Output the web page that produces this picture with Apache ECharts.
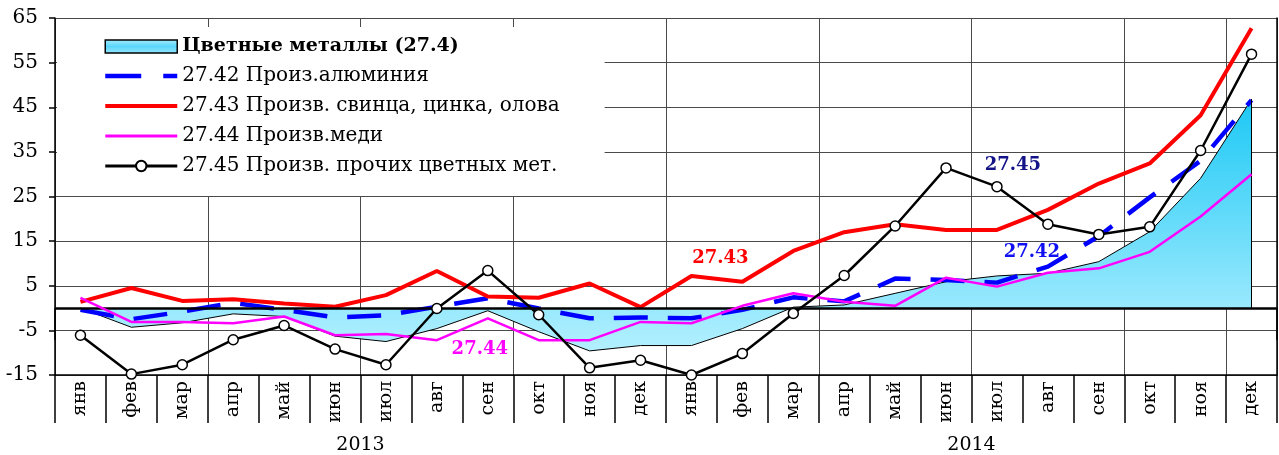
<!DOCTYPE html>
<html>
<head>
<meta charset="utf-8">
<script src="https://cdn.jsdelivr.net/npm/echarts@6/dist/echarts.min.js"></script>
<style>
html,body{margin:0;padding:0;background:#fff;}
#c{width:1279px;height:455px;}
</style>
</head>
<body>
<div id="c"></div>
<script>
var months = ['янв','фев','мар','апр','май','июн','июл','авг','сен','окт','ноя','дек',
              'янв','фев','мар','апр','май','июн','июл','авг','сен','окт','ноя','дек'];
var years = ['2013','2014'];
var yTicks = {min: -15, max: 65, step: 10};

var total274 = [0.0,-4.3,-3.3,-1.3,-1.9,-6.3,-7.5,-4.6,-0.6,-5.3,-9.6,-8.4,
                -8.4,-4.6,0.2,0.7,3.3,5.9,7.2,7.8,10.4,17.1,29.1,46.8];
var alum2742 = [-0.4,-2.5,-0.8,1.2,-0.4,-2.1,-1.6,0.3,2.2,-0.1,-2.3,-2.1,
                -2.3,-0.4,2.4,1.5,6.6,6.3,5.7,9.3,16.1,24.8,33.0,46.6];
var lead2743 = [1.4,4.5,1.6,2.0,1.0,0.3,2.9,8.3,2.6,2.3,5.5,0.2,
                7.2,5.9,12.8,17.0,18.8,17.5,17.5,22.0,27.9,32.4,43.2,62.7];
var copper2744 = [2.3,-3.1,-3.1,-3.4,-1.9,-6.1,-5.8,-7.2,-2.3,-7.2,-7.2,-3.1,
                  -3.4,0.5,3.3,1.4,0.5,6.8,4.8,7.9,8.9,12.6,20.5,30.0];
var other2745 = [-6.1,-14.8,-12.7,-7.1,-3.9,-9.2,-12.7,-0.1,8.4,-1.5,-13.4,-11.7,
                 -15.0,-10.2,-1.2,7.3,18.4,31.4,27.2,18.8,16.5,18.2,35.3,56.9];

var names = ['Цветные металлы (27.4)','27.42 Произ.алюминия','27.43 Произв. свинца, цинка, олова',
             '27.44 Произв.меди','27.45 Произв. прочих цветных мет.'];

var FONT = 'DejaVu Serif';
var gridCol = '#4a4a4a';

var areaGrad = new echarts.graphic.LinearGradient(0,0,0,1,[
  {offset:0,color:'#1cc8f5'},{offset:1,color:'#b3f0ff'}]);
var legendGrad = new echarts.graphic.LinearGradient(0,0,0,1,[
  {offset:0,color:'#a8ecff'},{offset:0.5,color:'#5ad6fb'},{offset:1,color:'#9ae6fc'}]);

function annot(text, color, idx, val, dx){
  return {
    symbol:'circle', symbolSize:1, silent:true,
    itemStyle:{color:'rgba(0,0,0,0)'},
    label:{show:true, position:'inside', formatter:text, color:color,
           fontFamily:FONT, fontWeight:'bold', fontSize:18, offset:[dx,0]},
    data:[{coord:[idx, val]}]
  };
}

var lastIdx = total274.length - 1;

var chart = echarts.init(document.getElementById('c'), null, {renderer:'canvas'});
chart.setOption({
  animation:false,
  backgroundColor:'#fff',
  grid:{left:55, right:2, top:18, bottom:80, containLabel:false},
  legend:{
    orient:'vertical', left:57, top:27,
    padding:[10,45,20,46],
    backgroundColor:'#fff',
    itemWidth:72, itemHeight:13, itemGap:10,
    formatter:function(name){
      return (name === names[0] ? '{b|' : '{n|') + name + '}';
    },
    textStyle:{
      fontFamily:FONT, fontSize:20, color:'#000',
      rich:{
        n:{fontFamily:FONT, fontSize:20, fontWeight:'normal', color:'#000'},
        b:{fontFamily:FONT, fontSize:19, fontWeight:'bold', color:'#000'}
      }
    },
    data:[
      {name:names[0], icon:'rect', itemStyle:{color:legendGrad, borderColor:'#000', borderWidth:1.5}},
      {name:names[1], itemStyle:{opacity:0}, lineStyle:{width:4.5, color:'#0000ff', type:[36,22]}},
      {name:names[2], itemStyle:{opacity:0}, lineStyle:{width:4, color:'#ff0000'}},
      {name:names[3], itemStyle:{opacity:0}, lineStyle:{width:3, color:'#ff00ff'}},
      {name:names[4], lineStyle:{width:3, color:'#000'}}
    ]
  },
  xAxis:[
    {
      type:'category', data:months, position:'bottom', boundaryGap:true,
      axisLine:{show:true, onZero:false, lineStyle:{color:'#000', width:1.5}},
      axisTick:{show:true, interval:0, length:48, lineStyle:{color:'#000', width:1.5}},
      axisLabel:{rotate:90, interval:0, margin:6, fontFamily:FONT, fontSize:19, color:'#000'},
      splitLine:{show:true, interval:2, lineStyle:{color:gridCol, width:1}}
    },
    {
      type:'category', data:years, position:'bottom', offset:48, boundaryGap:true,
      axisLine:{show:false},
      axisTick:{show:true, interval:0, length:32, lineStyle:{color:'#000', width:1.5}},
      axisLabel:{margin:13, fontFamily:FONT, fontSize:19, color:'#000'},
      splitLine:{show:false}
    }
  ],
  yAxis:[
    {
      type:'value', min:yTicks.min, max:yTicks.max, interval:yTicks.step,
      axisLine:{show:true, lineStyle:{color:'#000', width:1.5}},
      axisTick:{show:true, length:6, lineStyle:{color:'#000', width:1.5}},
      axisLabel:{margin:17, fontFamily:FONT, fontSize:20, color:'#000'},
      splitLine:{show:true, lineStyle:{color:gridCol, width:1}}
    },
    {
      type:'value', position:'right', min:yTicks.min, max:yTicks.max, interval:yTicks.step,
      axisLine:{show:true, lineStyle:{color:'#000', width:1.5}},
      axisTick:{show:false}, axisLabel:{show:false}, splitLine:{show:false}
    }
  ],
  series:[
    {
      name:names[0], type:'line', data:total274, symbol:'none', z:2,
      lineStyle:{color:'#000', width:1},
      itemStyle:{color:'#5ad6fb'},
      areaStyle:{color:areaGrad, opacity:1, origin:'auto'},
      markLine:{silent:true, symbol:'none', label:{show:false},
        lineStyle:{color:'#000', width:2.5, type:'solid'},
        data:[
          {yAxis:0},
          [{coord:[lastIdx, 0], lineStyle:{width:1}}, {coord:[lastIdx, total274[lastIdx]]}]
        ]}
    },
    {
      name:names[1], type:'line', data:alum2742, symbol:'none', z:3,
      lineStyle:{color:'#0000ff', width:4.5, type:[34,20]},
      itemStyle:{color:'#0000ff'},
      markPoint:annot('27.42','#1010f0',19,12.5,-16)
    },
    {
      name:names[2], type:'line', data:lead2743, symbol:'none', z:4,
      lineStyle:{color:'#ff0000', width:4},
      itemStyle:{color:'#ff0000'},
      markPoint:annot('27.43','#ff0000',13,11.2,-22)
    },
    {
      name:names[3], type:'line', data:copper2744, symbol:'none', z:5,
      lineStyle:{color:'#ff00ff', width:2.5},
      itemStyle:{color:'#ff00ff'},
      markPoint:annot('27.44','#ff00ff',8,-9.2,-8)
    },
    {
      name:names[4], type:'line', data:other2745, symbol:'circle', symbolSize:10, z:6,
      lineStyle:{color:'#000', width:2.5},
      itemStyle:{color:'#fff', borderColor:'#000', borderWidth:1.5},
      markPoint:annot('27.45','#141488',18,32.0,16)
    }
  ]
});
</script>
</body>
</html>
